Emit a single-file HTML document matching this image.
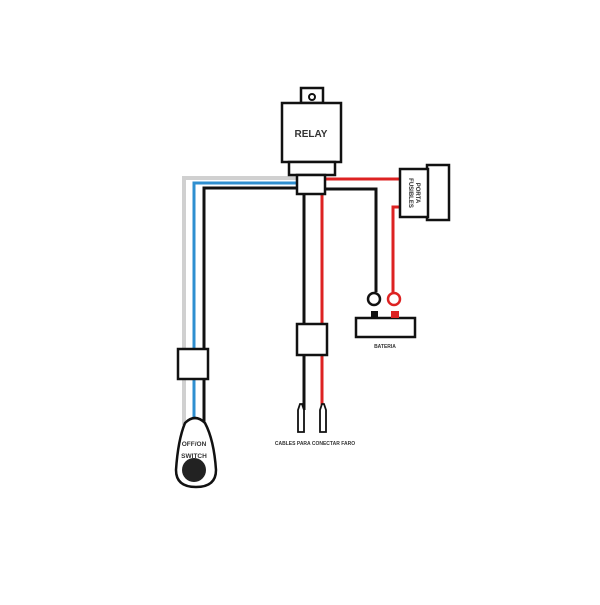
<!DOCTYPE html>
<html><head><style>body{margin:0;background:#fff}</style></head><body>
<svg width="600" height="600" viewBox="0 0 600 600" xmlns="http://www.w3.org/2000/svg" font-family="Liberation Sans, sans-serif" font-weight="bold">
<g fill="none" stroke-width="3">
<path d="M300 178 H184 V425" stroke="#d0d0d0" stroke-width="4"/>
<path d="M300 183 H194 V425" stroke="#2f8fd0"/>
<path d="M300 188 H204 V425" stroke="#111"/>
<path d="M325 179 H400" stroke="#d22"/>
<path d="M325 189 H376 V292" stroke="#111"/>
<path d="M400 207 H393 V292" stroke="#d22"/>
<path d="M304 193 V410" stroke="#111"/>
<path d="M322 193 V410" stroke="#d22"/>
</g>
<g fill="#fff" stroke="#111" stroke-width="2.5">
<rect x="301" y="88" width="22" height="15"/>
<rect x="282" y="103" width="59" height="59"/>
<rect x="289" y="162" width="46" height="13"/>
<rect x="297" y="175" width="28" height="19"/>
<rect x="427" y="165" width="22" height="55"/>
<rect x="400" y="169" width="28" height="48"/>
<rect x="297" y="324" width="30" height="31"/>
<rect x="178" y="349" width="30" height="30"/>
<rect x="356" y="318" width="59" height="19"/>
<path d="M300 404 l-2 6 v22 h6 v-22 l-2 -6z M322 404 l-2 6 v22 h6 v-22 l-2 -6z" stroke-width="1.8"/>
<path d="M185 423 Q195 413 205 423 Q214 440 216 470 Q216 487 196 487 Q176 487 176 470 Q178 440 185 423z"/>
</g>
<circle cx="312" cy="97" r="3" fill="none" stroke="#111" stroke-width="2"/>
<circle cx="374" cy="299" r="6" fill="#fff" stroke="#111" stroke-width="2.5"/>
<circle cx="394" cy="299" r="6" fill="#fff" stroke="#d22" stroke-width="2.5"/>
<rect x="371" y="311" width="7" height="7" fill="#111"/>
<rect x="391" y="311" width="8" height="7" fill="#d22"/>
<circle cx="194" cy="470" r="12" fill="#222"/>
<g fill="#333" text-anchor="middle">
<text x="311" y="137" font-size="10">RELAY</text>
<text x="385" y="348" font-size="5">BATERIA</text>
<text x="315" y="445" font-size="5">CABLES PARA CONECTAR FARO</text>
<text x="194" y="446" font-size="6.5">OFF/ON</text>
<text x="194" y="458" font-size="6.5">SWITCH</text>
<text transform="translate(416,193) rotate(90)" font-size="6">PORTA</text>
<text transform="translate(409,193) rotate(90)" font-size="6">FUSIBLES</text>
</g>
</svg>
</body></html>
